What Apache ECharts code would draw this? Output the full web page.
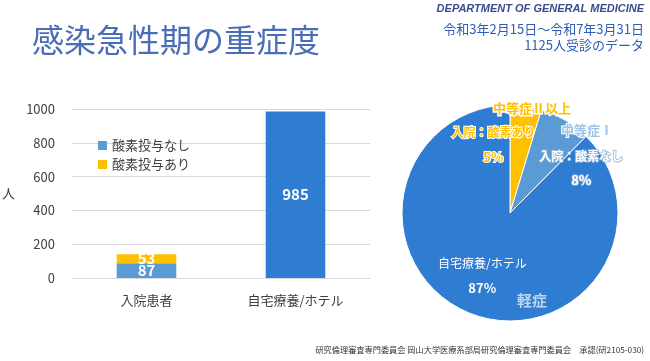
<!DOCTYPE html>
<html><head><meta charset="utf-8">
<script src="https://cdn.jsdelivr.net/npm/echarts@6/dist/echarts.min.js"></script>
<style>html,body{margin:0;padding:0;background:#fff}#c{width:650px;height:361px}</style>
</head><body><div id="c"></div>
<script>
// ---- data ----
const barCategories = ['入院患者', '自宅療養/ホテル'];
const noOxygen = [87, 985];
const withOxygen = [53, null];
const barSeriesNames = ['酸素投与なし', '酸素投与あり'];
const yTicks = [0, 200, 400, 600, 800, 1000];
const pieNames = ['入院：酸素あり', '入院：酸素なし', '自宅療養/ホテル'];
const pieValues = [53, 87, 985];
const severityNames = ['中等症Ⅱ以上', '中等症Ⅰ', '軽症'];

// ---- styles ----
const cBlue = '#2E7DD3', cLight = '#5B9BD5', cYellow = '#FFC000';
const font = '"Noto Sans CJK JP", "Noto Sans", sans-serif';
const pieColors = [cYellow, cLight, cBlue];
const pieLabelStyles = [
  {offset: [-25, -12], a: {color: cYellow, fontWeight: 'bold', textBorderColor: '#fff', textBorderWidth: 2}},
  {offset: [42, 4], a: {color: '#fff', fontWeight: 'bold', textBorderColor: '#8fb4dd', textBorderWidth: 1.5}},
  {offset: [-6, 10], a: {color: '#fff', fontWeight: 'normal'}}
];

const chart = echarts.init(document.getElementById('c'));
chart.setOption({
  backgroundColor: '#fff',
  animation: false,
  textStyle: {fontFamily: font},
  grid: {left: 69, right: 280, top: 109, bottom: 83},
  legend: {
    orient: 'vertical', left: 93, top: 134, itemWidth: 9, itemHeight: 9, itemGap: 6,
    icon: 'rect', textStyle: {fontSize: 13, color: '#404040', fontFamily: font},
    data: barSeriesNames
  },
  xAxis: {
    type: 'category', data: barCategories,
    axisLine: {lineStyle: {color: '#D9D9D9'}}, axisTick: {show: false},
    axisLabel: {color: '#404040', fontSize: 13, margin: 16}
  },
  yAxis: {
    type: 'value', min: 0, max: 1000, interval: 200,
    name: '人', nameLocation: 'middle', nameRotate: 0, nameGap: 57,
    nameTextStyle: {color: '#404040', fontSize: 13},
    axisLabel: {color: '#404040', fontSize: 13, margin: 17,
      formatter: v => yTicks.includes(v) ? String(v) : ''},
    splitLine: {lineStyle: {color: '#D9D9D9'}}
  },
  series: [
    {
      name: barSeriesNames[0], type: 'bar', stack: 's', barWidth: '40%',
      itemStyle: {color: cLight},
      data: noOxygen.map((v, i) => i === 1 ? {value: v, itemStyle: {color: cBlue}, label: {fontSize: 15}} : v),
      label: {show: true, position: 'inside', color: '#fff', fontWeight: 'bold', fontSize: 15}
    },
    {
      name: barSeriesNames[1], type: 'bar', stack: 's', barWidth: '40%',
      itemStyle: {color: cYellow},
      data: withOxygen,
      label: {show: true, position: 'inside', color: '#fff', fontWeight: 'bold', fontSize: 15, offset: [0, -1]}
    },
    {
      type: 'pie', center: [510, 213], radius: 108, startAngle: 90, clockwise: true,
      percentPrecision: 0, silent: true, z: 2,
      itemStyle: {borderColor: '#fff', borderWidth: 1},
      labelLine: {show: false},
      data: pieValues.map((v, i) => ({
        name: pieNames[i], value: v, itemStyle: {color: pieColors[i]},
        label: {
          show: true, position: 'inside', offset: pieLabelStyles[i].offset,
          formatter: '{a|{b}}\n{p|{d}%}',
          rich: {
            a: Object.assign({fontSize: 12, lineHeight: 24, fontFamily: font}, pieLabelStyles[i].a),
            p: Object.assign({}, pieLabelStyles[i].a, {fontSize: 13, fontWeight: 'bold', lineHeight: 24, fontFamily: font})
          }
        }
      }))
    }
  ],
  graphic: [
    {type: 'text', z: 100, left: 32, top: 24, style: {text: '感染急性期の重症度', fontSize: 32, fill: '#4B6CB7', fontFamily: font}},
    {type: 'text', z: 100, right: 6, top: 3, style: {text: 'DEPARTMENT OF GENERAL MEDICINE', fontSize: 11, fontWeight: 'bold', fontStyle: 'italic', fill: '#3B4C8C', fontFamily: '"Liberation Sans", Arial, sans-serif'}},
    {type: 'text', z: 100, right: 6, top: 23, style: {text: '令和3年2月15日～令和7年3月31日', fontSize: 13, fill: '#2F5DB8', fontFamily: font}},
    {type: 'text', z: 100, right: 6, top: 39, style: {text: '1125人受診のデータ', fontSize: 13, fill: '#2F5DB8', fontFamily: font}},
    {type: 'text', z: 100, x: 532, y: 108, style: {text: severityNames[0], fontSize: 13, fontWeight: 'bold', fill: cYellow, stroke: '#fff', lineWidth: 3, align: 'center', verticalAlign: 'middle', fontFamily: font}},
    {type: 'text', z: 100, x: 587, y: 130, style: {text: severityNames[1], fontSize: 13, fontWeight: 'bold', fill: '#9DC3E6', stroke: '#fff', lineWidth: 2, align: 'center', verticalAlign: 'middle', fontFamily: font}},
    {type: 'text', z: 100, x: 532, y: 300, style: {text: severityNames[2], fontSize: 15, fontWeight: 'bold', fill: '#BDD7EE', align: 'center', verticalAlign: 'middle', fontFamily: font}},
    {type: 'text', z: 100, right: 6, top: 346, style: {text: '研究倫理審査専門委員会 岡山大学医療系部局研究倫理審査専門委員会　承認(研2105-030)', fontSize: 8.2, fill: '#333', fontFamily: font}}
  ]
});
</script></body></html>
